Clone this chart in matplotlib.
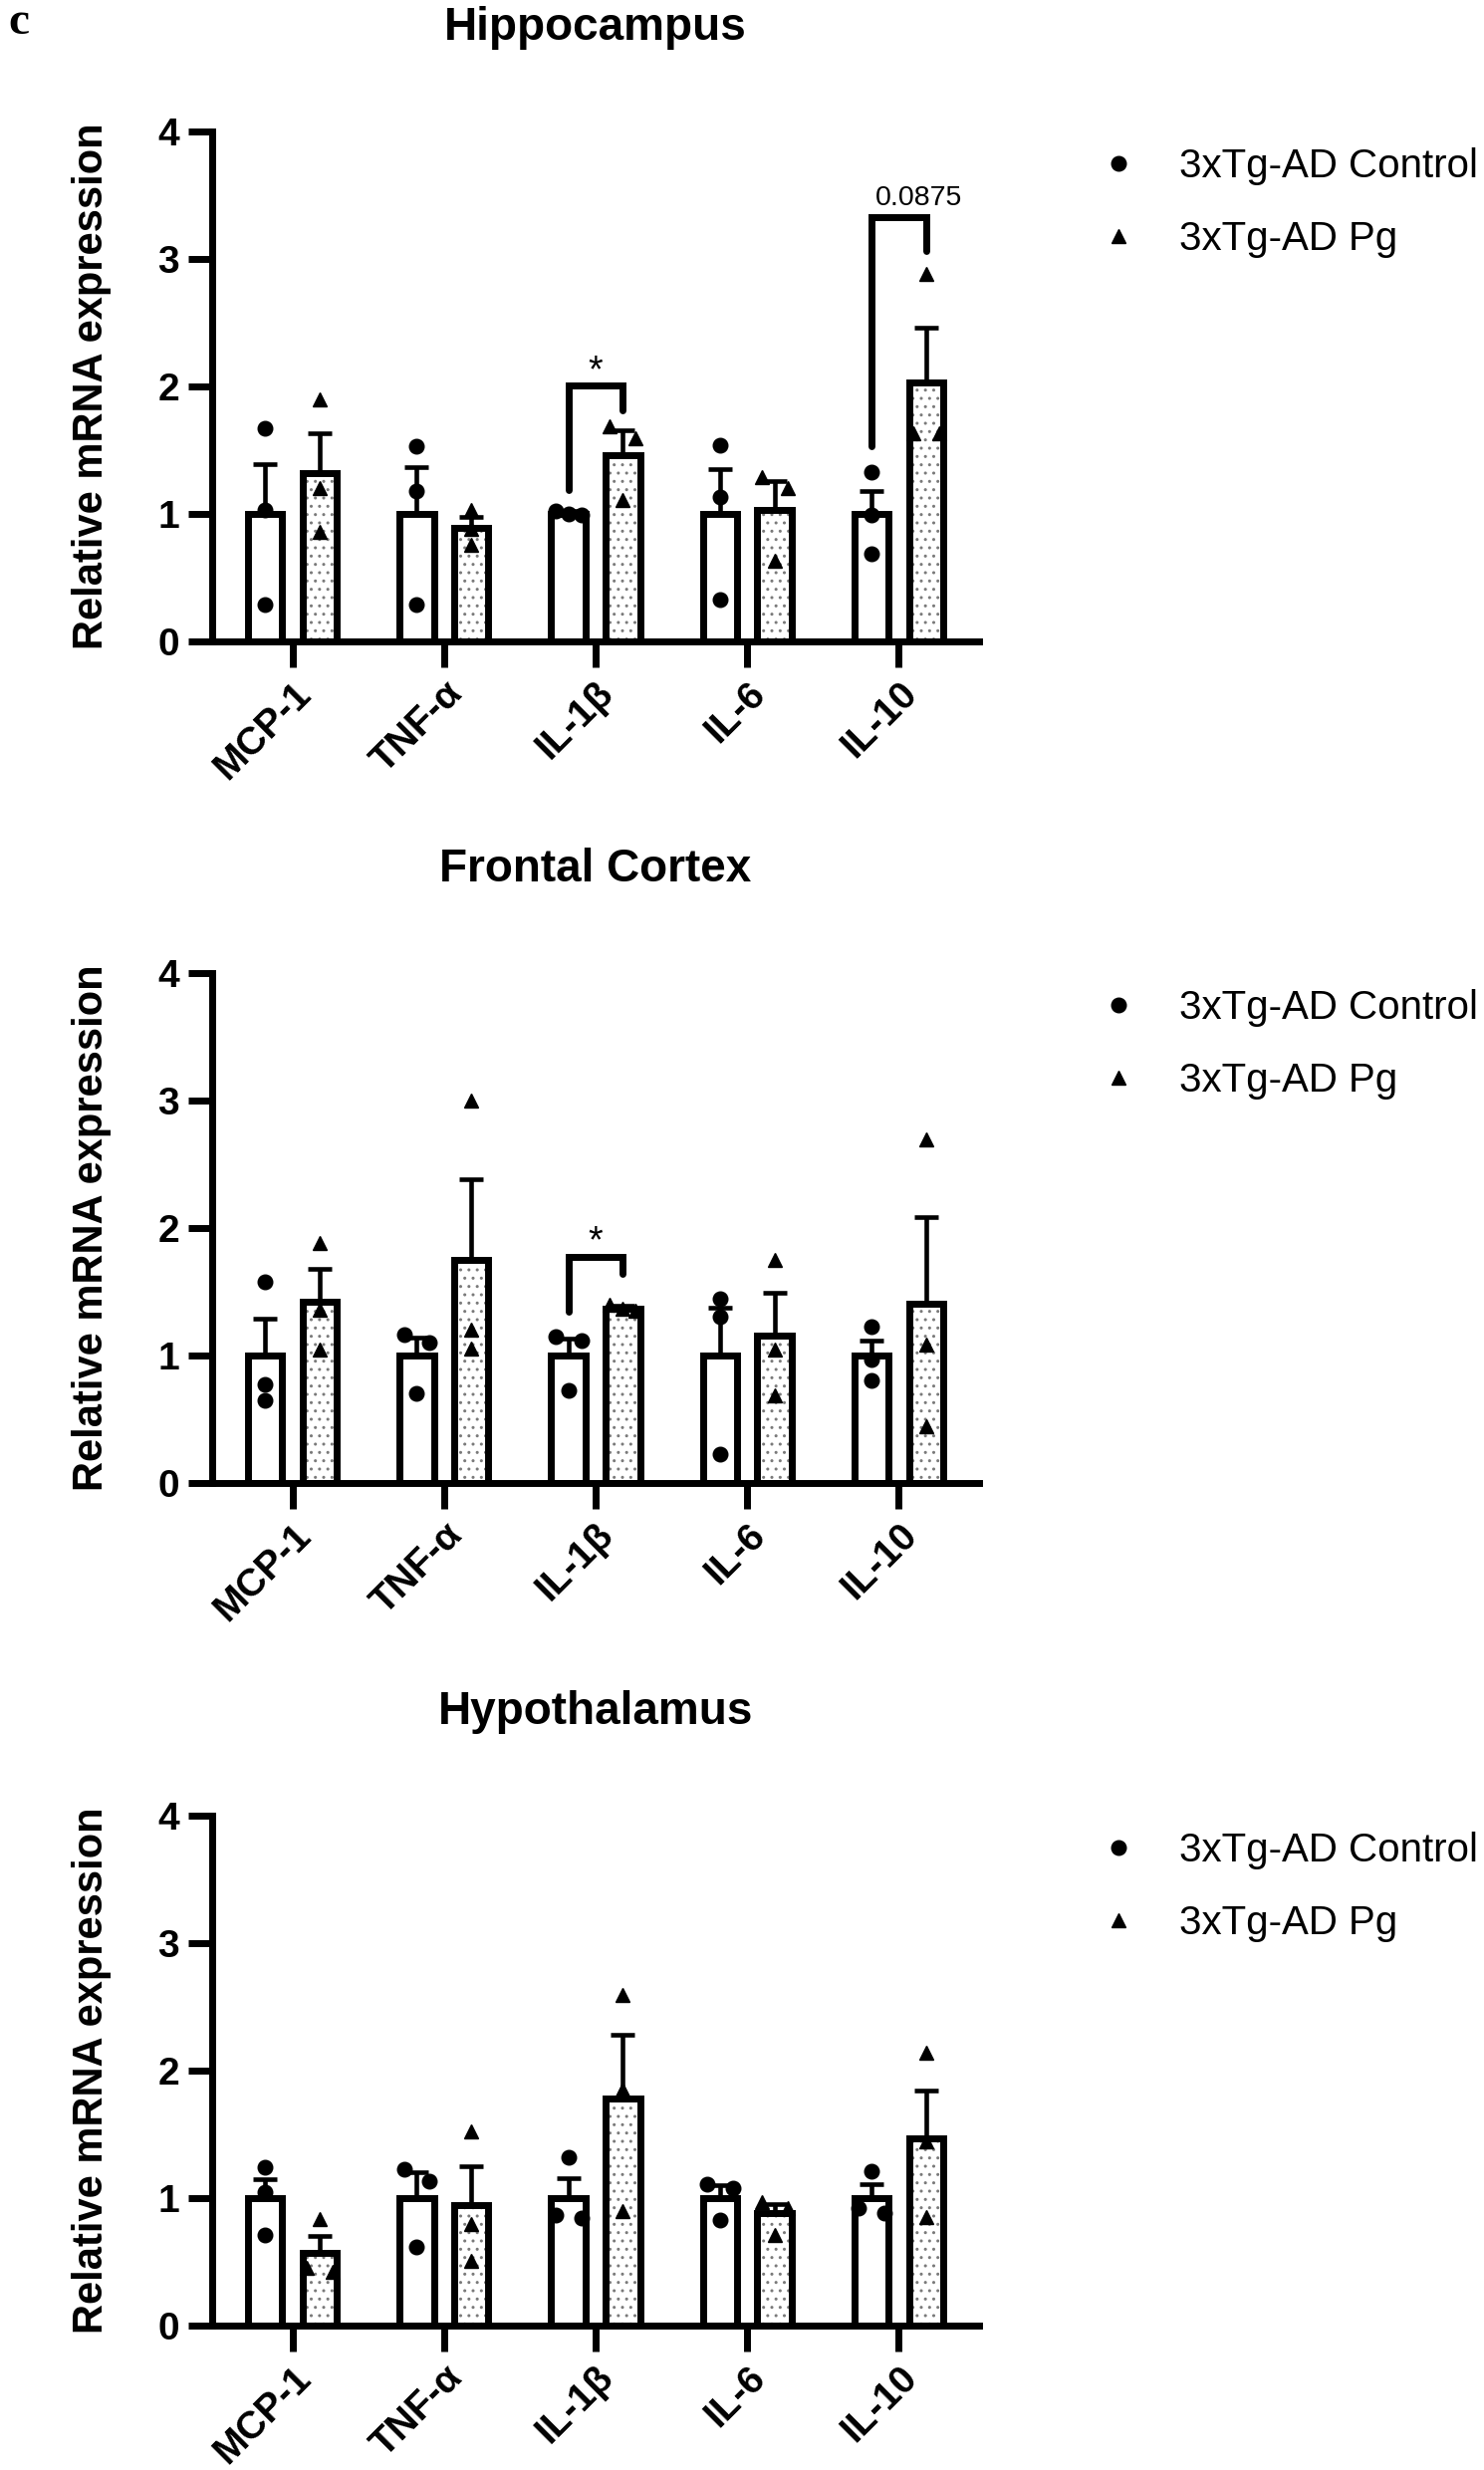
import matplotlib
matplotlib.use("Agg")
import matplotlib.pyplot as plt
from matplotlib.lines import Line2D
import numpy as np

plt.rcParams['font.family'] = ['Liberation Sans', 'DejaVu Sans']
plt.rcParams['hatch.linewidth'] = 1.0

# ---------------- data ----------------
categories = ['MCP-1', 'TNF-α', 'IL-1β', 'IL-6', 'IL-10']
regions = ['Hippocampus', 'Frontal Cortex', 'Hypothalamus']
group_labels = ['3xTg-AD Control', '3xTg-AD Pg']
y_ticks = [0, 1, 2, 3, 4]

# Hippocampus
hip_ctrl_mean = [1.00, 1.00, 1.00, 1.00, 1.00]
hip_ctrl_sem = [0.39, 0.37, 0.02, 0.35, 0.18]
hip_ctrl_pts = [[1.67, 1.03, 0.29], [1.53, 1.18, 0.29], [1.02, 1.00, 0.99],
                [1.54, 1.13, 0.33], [1.33, 0.99, 0.69]]
hip_pg_mean = [1.32, 0.89, 1.46, 1.03, 2.03]
hip_pg_sem = [0.31, 0.09, 0.195, 0.23, 0.43]
hip_pg_pts = [[1.90, 1.20, 0.86], [1.03, 0.88, 0.76], [1.69, 1.59, 1.11],
              [1.29, 1.20, 0.63], [2.88, 1.63, 1.63]]

# Frontal Cortex
fc_ctrl_mean = [1.00, 1.00, 1.00, 1.00, 1.00]
fc_ctrl_sem = [0.29, 0.143, 0.13, 0.376, 0.118]
fc_ctrl_pts = [[1.575, 0.77, 0.645], [1.167, 1.10, 0.707], [1.15, 1.115, 0.725],
               [1.446, 1.307, 0.226], [1.225, 0.966, 0.806]]
fc_pg_mean = [1.42, 1.75, 1.37, 1.16, 1.41]
fc_pg_sem = [0.26, 0.63, 0.02, 0.33, 0.675]
fc_pg_pts = [[1.88, 1.36, 1.05], [3.00, 1.20, 1.056], [1.40, 1.37, 1.35],
             [1.753, 1.045, 0.69], [2.695, 1.086, 0.447]]

# Hypothalamus
hyp_ctrl_mean = [1.00, 1.00, 1.00, 1.00, 1.00]
hyp_ctrl_sem = [0.15, 0.20, 0.16, 0.10, 0.11]
hyp_ctrl_pts = [[1.24, 1.05, 0.71], [1.23, 1.13, 0.62], [1.32, 0.87, 0.84],
                [1.11, 1.08, 0.83], [1.21, 0.92, 0.88]]
hyp_pg_mean = [0.57, 0.945, 1.78, 0.88, 1.47]
hyp_pg_sem = [0.135, 0.305, 0.50, 0.075, 0.375]
hyp_pg_pts = [[0.835, 0.45, 0.42], [1.526, 0.80, 0.51], [2.59, 1.85, 0.90],
              [0.97, 0.925, 0.71], [2.14, 1.445, 0.855]]

# significance brackets: category index, bracket top, left leg end, right leg end, label
hip_br_cat = [2, 4]
hip_br_top = [2.007, 3.33]
hip_br_left = [1.19, 1.53]
hip_br_right = [1.81, 3.06]
hip_br_text = ['*', '0.0875']

fc_br_cat = [2]
fc_br_top = [1.777]
fc_br_left = [1.34]
fc_br_right = [1.64]
fc_br_text = ['*']

panels = [
    (hip_ctrl_mean, hip_ctrl_sem, hip_ctrl_pts, hip_pg_mean, hip_pg_sem, hip_pg_pts,
     (hip_br_cat, hip_br_top, hip_br_left, hip_br_right, hip_br_text)),
    (fc_ctrl_mean, fc_ctrl_sem, fc_ctrl_pts, fc_pg_mean, fc_pg_sem, fc_pg_pts,
     (fc_br_cat, fc_br_top, fc_br_left, fc_br_right, fc_br_text)),
    (hyp_ctrl_mean, hyp_ctrl_sem, hyp_ctrl_pts, hyp_pg_mean, hyp_pg_sem, hyp_pg_pts,
     ([], [], [], [], [])),
]

# ---------------- layout / style ----------------
W, H = 1490, 2480
fig = plt.figure(figsize=(W / 100, H / 100), dpi=100)
ax_left_px, ax_w_px, ax_h_px = 213, 770, 512
tops_px = [132, 977, 1823]
OFF = 0.18
BW = 0.225
MS = 10.5
LW = 5


def spread(vals, thr=0.115, d=0.085):
    vals = np.asarray(vals, dtype=float)
    order = list(np.argsort(-vals))
    offs = np.zeros(len(vals))
    clusters, cur = [], [order[0]]
    for i in order[1:]:
        if vals[cur[-1]] - vals[i] < thr:
            cur.append(i)
        else:
            clusters.append(cur)
            cur = [i]
    clusters.append(cur)
    for c in clusters:
        if len(c) > 1:
            for k, idx in zip(np.linspace(-d, d, len(c)), c):
                offs[idx] = k
    return offs


for p, (cm, cs, cp, pm, ps, pp, br) in enumerate(panels):
    top = tops_px[p]
    ax = fig.add_axes([ax_left_px / W, 1 - (top + ax_h_px) / H, ax_w_px / W, ax_h_px / H])
    x = np.arange(len(categories))

    ax.bar(x - OFF, cm, BW, color='white', linewidth=0, zorder=1)
    ax.bar(x + OFF, pm, BW, color='white', edgecolor='#7a7a7a', hatch='..',
           linewidth=0, zorder=1)
    for xs, m, s in ((x - OFF, cm, cs), (x + OFF, pm, ps)):
        ax.errorbar(xs, m, yerr=[np.zeros(len(m)), s], fmt='none', ecolor='black',
                    elinewidth=3.3, capsize=8.5, capthick=3.3, zorder=2)
    ax.bar(x - OFF, cm, BW, fill=False, edgecolor='black', linewidth=LW, zorder=3)
    ax.bar(x + OFF, pm, BW, fill=False, edgecolor='black', linewidth=LW, zorder=3)

    for i in range(len(categories)):
        ax.plot(x[i] - OFF + spread(cp[i]), cp[i], 'o', color='black', ms=MS,
                zorder=4, clip_on=False)
        ax.plot(x[i] + OFF + spread(pp[i]), pp[i], '^', color='black', ms=MS,
                zorder=4, clip_on=False)

    bc, bt, bl, brr, btx = br
    for c, t, l, r, txt in zip(bc, bt, bl, brr, btx):
        ax.plot([c - OFF, c - OFF, c + OFF, c + OFF], [l, t, t, r], color='black',
                lw=LW, solid_capstyle='round', solid_joinstyle='miter', zorder=5,
                clip_on=False)
        if txt == '*':
            ax.text(c, t + 0.03, txt, ha='center', va='baseline', fontsize=27)
        else:
            ax.text(c + 0.13, t + 0.095, txt, ha='center', va='baseline', fontsize=20.5)

    ax.set_xlim(-0.53, 4.53)
    ax.set_ylim(0, 4)
    for s in ('top', 'right'):
        ax.spines[s].set_visible(False)
    for s in ('left', 'bottom'):
        ax.spines[s].set_linewidth(LW)
    ax.set_yticks(y_ticks, labels=[str(v) for v in y_ticks], fontsize=28,
                  fontweight='bold')
    ax.set_xticks(x, labels=categories, fontsize=28, fontweight='bold', rotation=45,
                  ha='right', va='top', rotation_mode='anchor')
    ax.tick_params(axis='y', length=17.3, width=LW, pad=6.5)
    ax.tick_params(axis='x', length=18.7, width=LW, pad=6)
    ax.set_ylabel('Relative mRNA expression', fontsize=30, fontweight='bold')
    ax.yaxis.label.set_va('center')
    ax.yaxis.set_label_coords((92 - ax_left_px) / ax_w_px, 0.5)
    ax.set_title(regions[p], fontsize=33, fontweight='bold', pad=66)

    handles = [Line2D([], [], marker='o', ls='', color='black', ms=MS),
               Line2D([], [], marker='^', ls='', color='black', ms=MS)]
    ax.legend(handles, group_labels, loc='center left',
              bbox_to_anchor=((1103 - ax_left_px) / ax_w_px, 1 - 71.5 / ax_h_px),
              frameon=False, fontsize=29, handlelength=1.0, handletextpad=1.0,
              labelspacing=0.85, borderpad=0, borderaxespad=0)

fig.text(8 / W, 1 - 34 / H, 'c', family=['Liberation Serif', 'DejaVu Serif'],
         fontweight='bold', fontsize=34, va='baseline', ha='left')

fig.savefig('out.png', dpi=100, facecolor='white')
